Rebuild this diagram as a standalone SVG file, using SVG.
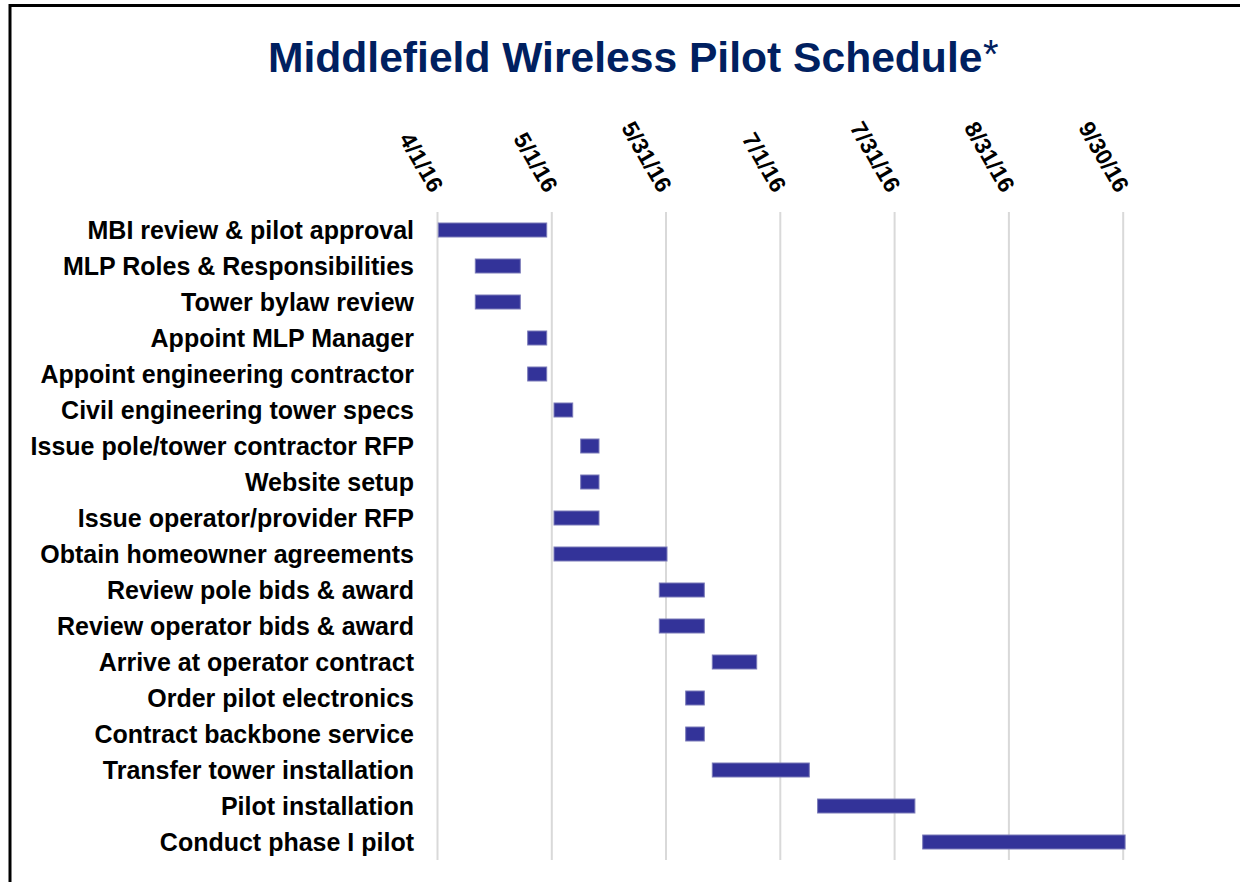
<svg xmlns="http://www.w3.org/2000/svg" width="1240" height="882" viewBox="0 0 1240 882">
<style>
.lbl{font-family:"Liberation Sans",Arial,sans-serif;font-weight:bold;font-size:25px;fill:#000;text-anchor:end}
.date{font-family:"Liberation Sans",Arial,sans-serif;font-weight:bold;font-size:23px;fill:#000;text-anchor:end}
.bar{fill:#333399;stroke:#7a7ab8;stroke-width:1}
.grid{stroke:#d9d9d9;stroke-width:2}
</style>
<rect x="0" y="0" width="1240" height="882" fill="#fff"/>
<rect x="10" y="5.5" width="1300" height="1000" fill="none" stroke="#000" stroke-width="3"/>
<g id="title">
<text x="268" y="72" font-family="Liberation Sans,Arial,sans-serif" font-weight="bold" font-size="42.6" fill="#002060">Middlefield Wireless Pilot Schedule</text>
<text x="983" y="68" font-family="Liberation Sans,Arial,sans-serif" font-size="40" fill="#002060">*</text>
</g>
<g id="connectors">
<line class="grid" x1="437.5" y1="212" x2="437.5" y2="860"/>
<line class="grid" x1="551.8" y1="212" x2="551.8" y2="860"/>
<line class="grid" x1="666" y1="212" x2="666" y2="860"/>
<line class="grid" x1="780.3" y1="212" x2="780.3" y2="860"/>
<line class="grid" x1="894.6" y1="212" x2="894.6" y2="860"/>
<line class="grid" x1="1008.9" y1="212" x2="1008.9" y2="860"/>
<line class="grid" x1="1123.2" y1="212" x2="1123.2" y2="860"/>
</g>
<g id="axis">
<text class="date" transform="translate(430.5,194) rotate(60)">4/1/16</text>
<text class="date" transform="translate(544.8,194) rotate(60)">5/1/16</text>
<text class="date" transform="translate(659,194) rotate(60)">5/31/16</text>
<text class="date" transform="translate(773.3,194) rotate(60)">7/1/16</text>
<text class="date" transform="translate(887.6,194) rotate(60)">7/31/16</text>
<text class="date" transform="translate(1001.9,194) rotate(60)">8/31/16</text>
<text class="date" transform="translate(1116.2,194) rotate(60)">9/30/16</text>
</g>
<g id="task1"><text class="lbl" x="414" y="239">MBI review &amp; pilot approval</text><rect class="bar" x="438.3" y="223" width="108.4" height="14"/></g>
<g id="task2"><text class="lbl" x="414" y="275">MLP Roles &amp; Responsibilities</text><rect class="bar" x="475.3" y="259" width="45" height="14"/></g>
<g id="task3"><text class="lbl" x="414" y="311">Tower bylaw review</text><rect class="bar" x="475.3" y="295" width="45" height="14"/></g>
<g id="task4"><text class="lbl" x="414" y="347">Appoint MLP Manager</text><rect class="bar" x="527.7" y="331" width="19" height="14"/></g>
<g id="task5"><text class="lbl" x="414" y="383">Appoint engineering contractor</text><rect class="bar" x="527.7" y="367" width="19" height="14"/></g>
<g id="task6"><text class="lbl" x="414" y="419">Civil engineering tower specs</text><rect class="bar" x="554" y="403" width="18.7" height="14"/></g>
<g id="task7"><text class="lbl" x="414" y="455">Issue pole/tower contractor RFP</text><rect class="bar" x="580.7" y="439" width="18.3" height="14"/></g>
<g id="task8"><text class="lbl" x="414" y="491">Website setup</text><rect class="bar" x="580.7" y="475" width="18.3" height="14"/></g>
<g id="task9"><text class="lbl" x="414" y="527">Issue operator/provider RFP</text><rect class="bar" x="554" y="511" width="45" height="14"/></g>
<g id="task10"><text class="lbl" x="414" y="563">Obtain homeowner agreements</text><rect class="bar" x="554" y="547" width="113" height="14"/></g>
<g id="task11"><text class="lbl" x="414" y="599">Review pole bids &amp; award</text><rect class="bar" x="659.3" y="583" width="45" height="14"/></g>
<g id="task12"><text class="lbl" x="414" y="635">Review operator bids &amp; award</text><rect class="bar" x="659.3" y="619" width="45" height="14"/></g>
<g id="task13"><text class="lbl" x="414" y="671">Arrive at operator contract</text><rect class="bar" x="712.3" y="655" width="44.4" height="14"/></g>
<g id="task14"><text class="lbl" x="414" y="707">Order pilot electronics</text><rect class="bar" x="685.7" y="691" width="18.6" height="14"/></g>
<g id="task15"><text class="lbl" x="414" y="743">Contract backbone service</text><rect class="bar" x="685.7" y="727" width="18.6" height="14"/></g>
<g id="task16"><text class="lbl" x="414" y="779">Transfer tower installation</text><rect class="bar" x="712.3" y="763" width="97" height="14"/></g>
<g id="task17"><text class="lbl" x="414" y="815">Pilot installation</text><rect class="bar" x="817.6" y="799" width="97.3" height="14"/></g>
<g id="task18"><text class="lbl" x="414" y="851">Conduct phase I pilot</text><rect class="bar" x="922.7" y="835" width="202.4" height="14"/></g>
</svg>
